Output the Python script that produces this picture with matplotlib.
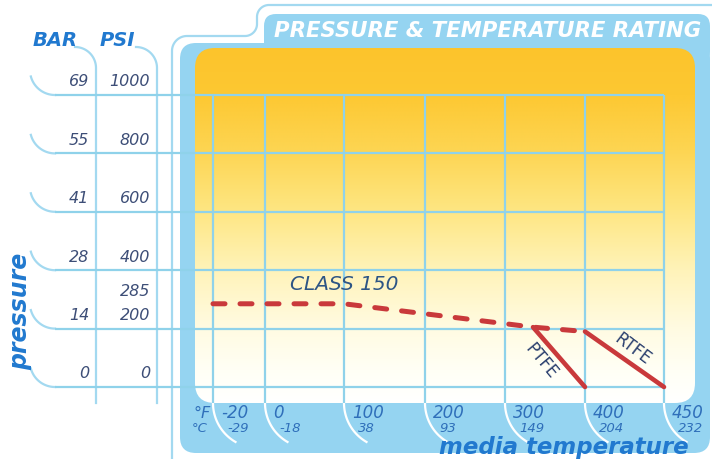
import numpy as np
import matplotlib
matplotlib.use('Agg')
import matplotlib.pyplot as plt
from matplotlib.patches import FancyBboxPatch

# temperature axis (schematic, columns are not to scale)
temp_f = [-20, 0, 100, 200, 300, 400, 450]
temp_c = [-29, -18, 38, 93, 149, 204, 232]
# pressure axis
psi_ticks = [0, 200, 400, 600, 800, 1000]
bar_ticks = [0, 14, 28, 41, 55, 69]

# rating curves (deg F, psi)
class150_f = [-20, 100, 335, 400]
class150_psi = [285, 285, 205, 190]
ptfe_f = [335, 400]
ptfe_psi = [205, 0]
rtfe_f = [400, 450]
rtfe_psi = [190, 0]

# column spacing used by the piecewise temperature scale
col_px = [0, 52, 131, 212, 292, 372, 451]

BLUE = '#95d4f1'
LINE = '#a3d9f0'
GRID = '#8fd2ea'
TXT_BLUE = '#2179cf'
RED = '#c9393b'

W, H = 719, 459
fig = plt.figure(figsize=(W / 100, H / 100), dpi=100)
bg = fig.add_axes([0, 0, 1, 1])
bg.set_autoscale_on(False)
bg.set_xlim(0, W)
bg.set_ylim(H, 0)
bg.axis('off')

GL, GR, GT, GB = 213, 664, 95, 387
ax = fig.add_axes([GL / W, 1 - GB / H, (GR - GL) / W, (GB - GT) / H])
ax.set_xscale('function', functions=(lambda x: np.interp(x, temp_f, col_px),
                                     lambda p: np.interp(p, col_px, temp_f)))
ax.set_xlim(-20, 450)
ax.set_ylim(0, 1000)
ax.axis('off')


def to_px(x, y):
    return bg.transData.inverted().transform(ax.transData.transform((x, y)))


def arc(cx, cy, r, a0, a1, n=40):
    a = np.radians(np.linspace(a0, a1, n))
    return cx + r * np.cos(a), cy + r * np.sin(a)


# thin outline with the title tab
xs, ys = [172], [459]
x1, y1 = arc(187, 51, 15, 180, 270)
x2, y2 = arc(245, 24, 12, 90, 0)
x3, y3 = arc(269, 17, 12, 180, 270)
xs = np.concatenate([xs, x1, x2, x3, [712]])
ys = np.concatenate([ys, y1, y2, y3, [5]])
bg.plot(xs, ys, color=LINE, lw=1.6, zorder=1, solid_capstyle='butt')

# blue frame
bg.add_patch(FancyBboxPatch((180, 43), 530, 410, boxstyle='round,pad=0,rounding_size=16',
                            fc=BLUE, ec='none', zorder=1))
bg.add_patch(FancyBboxPatch((264, 14), 446, 50, boxstyle='round,pad=0,rounding_size=12',
                            fc=BLUE, ec='none', zorder=1))

# inner gradient panel
inner = FancyBboxPatch((195, 48), 500, 355, boxstyle='round,pad=0,rounding_size=20',
                       fc='none', ec='none', zorder=2)
bg.add_patch(inner)
gy = np.arange(48, 404)
sy = [48, 95, 150, 210, 270, 327, 370, 403]
sr = [252, 253, 253, 254, 255, 255, 255, 255]
sg = [196, 200, 213, 230, 243, 251, 255, 255]
sb = [44, 50, 82, 130, 185, 225, 245, 255]
col = np.stack([np.interp(gy, sy, sr), np.interp(gy, sy, sg), np.interp(gy, sy, sb)], axis=-1) / 255
grad = np.repeat(col[:, None, :], 10, axis=1)
im = bg.imshow(grad, extent=[195, 695, 403, 48], aspect='auto', zorder=2, interpolation='bilinear')
im.set_clip_path(inner)

# BAR / PSI columns
for cx, xv in [(75, 96), (136, 157)]:
    ax_, ay_ = arc(cx, 68, 21, 270, 360)
    bg.plot(np.r_[ax_, xv], np.r_[ay_, 403], color=LINE, lw=1.6, zorder=3)
bg.text(33, 40, 'BAR', color=TXT_BLUE, fontsize=14, fontweight='bold', style='italic', va='center')
bg.text(100, 40, 'PSI', color=TXT_BLUE, fontsize=14, fontweight='bold', style='italic', va='center')

# horizontal grid lines and row curves
xa0 = (55 - GL) / (GR - GL)
for p in psi_ticks:
    ax.plot([xa0, 1], [p, p], transform=ax.get_yaxis_transform(), color=GRID, lw=1.6,
            clip_on=False, zorder=1, solid_capstyle='butt')
    yr = to_px(0, p)[1]
    cx_, cy_ = arc(55, yr - 25, 25, 165, 90)
    bg.plot(cx_, cy_, color=LINE, lw=1.6, zorder=3)

xb = (89 - GL) / (GR - GL)
xp = (150 - GL) / (GR - GL)
for b, p in zip(bar_ticks, psi_ticks):
    ax.annotate(str(b), xy=(xb, p), xycoords=ax.get_yaxis_transform(), xytext=(0, 13),
                textcoords='offset pixels', ha='right', va='center', fontsize=11.5,
                style='italic', color='#3d4e77', annotation_clip=False)
    ax.annotate(str(p), xy=(xp, p), xycoords=ax.get_yaxis_transform(), xytext=(0, 13),
                textcoords='offset pixels', ha='right', va='center', fontsize=11.5,
                style='italic', color='#3d4e77', annotation_clip=False)
ax.annotate('285', xy=(xp, 285), xycoords=ax.get_yaxis_transform(), xytext=(0, 12),
            textcoords='offset pixels', ha='right', va='center', fontsize=11.5,
            style='italic', color='#3d4e77', annotation_clip=False)

# vertical grid lines and the white curves below them
yb = -(403 - GB) / (GB - GT)
for tf, tc in zip(temp_f, temp_c):
    ax.plot([tf, tf], [yb, 1], transform=ax.get_xaxis_transform(), color=GRID, lw=1.6,
            clip_on=False, zorder=1, solid_capstyle='butt')
    xv = to_px(tf, 0)[0]
    phi = np.radians(np.linspace(0, 60, 30))
    bg.plot(xv + 45 * (1 - np.cos(phi)), 403 + 45 * np.sin(phi), color='white', lw=1.6, zorder=3)
    ax.annotate(str(tf), xy=(tf, 0), xycoords=ax.get_xaxis_transform(), xytext=(8, -26),
                textcoords='offset pixels', ha='left', va='center', fontsize=12,
                style='italic', color='#2f6fba', annotation_clip=False)
    ax.annotate(str(tc), xy=(tf, 0), xycoords=ax.get_xaxis_transform(), xytext=(14, -42),
                textcoords='offset pixels', ha='left', va='center', fontsize=9.5,
                style='italic', color='#2f6fba', annotation_clip=False)
bg.text(193, 413, '°F', fontsize=11.5, style='italic', color='#2f6fba', va='center')
bg.text(192, 429, '°C', fontsize=9.5, style='italic', color='#2f6fba', va='center')

# rating lines
ax.plot(class150_f, class150_psi, color=RED, lw=3.6, dashes=(2.4, 3.0),
        dash_capstyle='round', zorder=4, clip_on=False)
ax.plot(ptfe_f, ptfe_psi, color=RED, lw=3.3, solid_capstyle='round', zorder=4, clip_on=False)
ax.plot(rtfe_f, rtfe_psi, color=RED, lw=3.3, solid_capstyle='round', zorder=4, clip_on=False)

ax.text(100, 350, 'CLASS 150', fontsize=14.5, style='italic', color='#2d5585',
        ha='center', va='center')
ax.text(345, 88, 'PTFE', fontsize=12, color='#2a3f6e', rotation=-50,
        ha='center', va='center', rotation_mode='anchor')
ax.text(430, 129, 'RTFE', fontsize=12, color='#2a3f6e', rotation=-37,
        ha='center', va='center', rotation_mode='anchor')

# titles
bg.text(488, 31, 'PRESSURE & TEMPERATURE RATING', color='white', fontsize=15.3,
        fontweight='bold', style='italic', ha='center', va='center', zorder=5)
bg.text(689, 454, 'media temperature', color=TXT_BLUE, fontsize=16.5, fontweight='bold',
        style='italic', ha='right', va='baseline', zorder=5)
bg.text(20, 311, 'pressure', color=TXT_BLUE, fontsize=17, fontweight='bold',
        style='italic', rotation=90, ha='center', va='center', zorder=5)

bg.set_xlim(0, W)
bg.set_ylim(H, 0)
fig.savefig('out.png', dpi=100)
